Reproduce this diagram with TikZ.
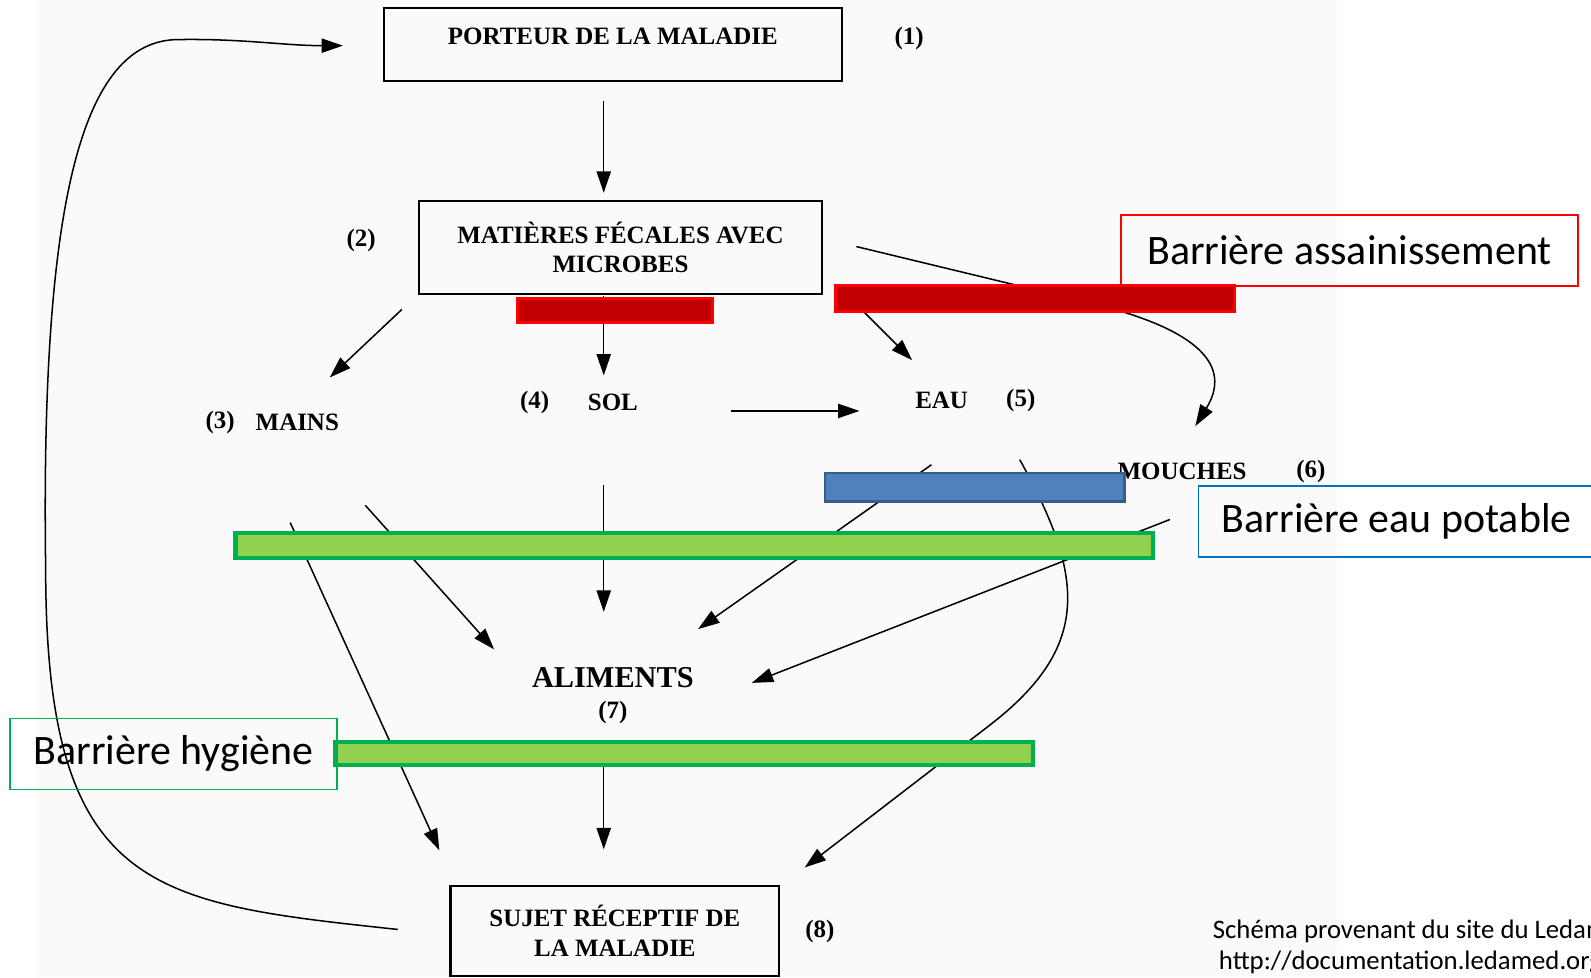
\documentclass[tikz,border=0pt]{standalone}
\usepackage{fontspec}
\setmainfont{Liberation Serif}
\newfontfamily\calibri{Carlito}
\usetikzlibrary{arrows.meta}

\definecolor{rougefonce}{RGB}{192,0,0}
\definecolor{rougevif}{RGB}{255,0,0}
\definecolor{vertclair}{RGB}{146,208,80}
\definecolor{vertfonce}{RGB}{0,176,80}
\definecolor{bleubarre}{RGB}{79,129,189}
\definecolor{bleubord}{RGB}{56,93,138}
\definecolor{bleucadre}{RGB}{0,112,192}

\begin{document}
\begin{tikzpicture}[x=0.02cm,y=-0.02cm,
  boite/.style={draw, line width=1.2pt, inner sep=0pt, align=center, font=\bfseries\fontsize{14}{16.5}\selectfont},
  etiq/.style={inner sep=0pt, font=\bfseries\fontsize{14}{16}\selectfont},
  fleche/.style={-{Triangle[length=12pt,width=8pt]}, line width=0.85pt},
  cadre/.style={draw, line width=0.9pt, inner sep=0pt, font=\calibri\fontsize{23.5}{28}\selectfont}]
\useasboundingbox (0,0) rectangle (1568,963);
\clip (0,0) rectangle (1568,963);
\fill[black!2] (35,0) rectangle (1318,963); % scanned page

% boxes
\node[boite, minimum width=9.04cm, minimum height=1.44cm, text depth=9pt] (porteur) at (604,44) {PORTEUR DE LA MALADIE};
\node[boite, minimum width=7.94cm, minimum height=1.84cm] (matieres) at (611.5,244) {MATIÈRES FÉCALES AVEC\\MICROBES};
\node[boite, minimum width=6.48cm, minimum height=1.78cm] (sujet) at (606,917.5) {SUJET RÉCEPTIF DE\\LA MALADIE};

% labels
\node[etiq] (n1) at (896,38) {(1)};
\node[etiq] (n2) at (356,237) {(2)};
\node[etiq] (n3) at (217,416) {(3)};
\node[etiq] (mains) at (293,416) {MAINS};
\node[etiq] (n4) at (527,397) {(4)};
\node[etiq] (sol) at (604,397) {SOL};
\node[etiq] (eau) at (928,395) {EAU};
\node[etiq] (n5) at (1006,395) {(5)};
\node[etiq] (mouches) at (1165,465) {MOUCHES};
\node[etiq] (n6) at (1292,465) {(6)};
\node[etiq, font=\bfseries\fontsize{17}{20}\selectfont] (aliments) at (604,668) {ALIMENTS};
\node[etiq] (n7) at (604,702) {(7)};
\node[etiq] (n8) at (808,918) {(8)};

% ends of the arrows
\coordinate (porteur-out) at (595,100);  \coordinate (matieres-in) at (595,190);
\coordinate (m-sol) at (595,292);        \coordinate (sol-in) at (595,370);
\coordinate (m-mains) at (396,305);      \coordinate (mains-in) at (325,372);
\coordinate (m-eau) at (835,291);        \coordinate (eau-in) at (899,355);
\coordinate (m-mouches) at (844,243);    \coordinate (mouches-in) at (1178,420);
\coordinate (sol-eau) at (720,405);      \coordinate (eau-left) at (847,405);
\coordinate (mains-s) at (286,515);      \coordinate (sujet-l) at (433,838);
\coordinate (mains-a) at (360,498);      \coordinate (aliments-l) at (487,640);
\coordinate (sol-a) at (595,478);        \coordinate (aliments-t) at (595,603);
\coordinate (eau-a) at (918,458);        \coordinate (aliments-r) at (688,620);
\coordinate (eau-s) at (1005,453);       \coordinate (sujet-r) at (793,855);
\coordinate (mouches-a) at (1153,512);   \coordinate (aliments-e) at (741,673);
\coordinate (aliments-s) at (595,748);   \coordinate (sujet-t) at (595,837);
\coordinate (sujet-back) at (392,916);   \coordinate (porteur-in) at (338,45);

% arrows
\draw[fleche] (porteur-out) -- (matieres-in);
\draw[fleche] (m-sol) -- (sol-in);
\draw[fleche] (m-mains) -- (mains-in);
\draw[fleche] (m-eau) -- (eau-in);
\draw[fleche] (m-mouches) -- (1080,300) .. controls (1180,325) and (1215,360) .. (mouches-in);
\draw[fleche] (sol-eau) -- (eau-left);
\draw[fleche] (mains-s) -- (sujet-l);
\draw[fleche] (mains-a) -- (aliments-l);
\draw[fleche] (sol-a) -- (aliments-t);
\draw[fleche] (eau-a) -- (aliments-r);
\draw[fleche] (eau-s) .. controls (1070,570) and (1075,638) .. (975,715) -- (sujet-r);
\draw[fleche] (mouches-a) -- (aliments-e);
\draw[fleche] (aliments-s) -- (sujet-t);
\draw[fleche] (sujet-back) .. controls (150,890) and (45,880) .. (45,560)
  .. controls (40,200) and (80,39) .. (176,39)
  .. controls (240,38) and (280,45) .. (porteur-in); % back to the carrier

% barriers
\draw[line width=1.7pt, draw=rougevif, fill=rougefonce] (510,294) rectangle (702,318);
\draw[line width=1.7pt, draw=rougevif, fill=rougefonce] (823,281) rectangle (1217,307);
\draw[line width=1.5pt, draw=bleubord, fill=bleubarre] (813,466) rectangle (1108,494);
\foreach \ya/\yb/\xa/\xb in {525/550/232/1136, 731/754/330/1018}
  \draw[line width=2.4pt, draw=vertfonce, fill=vertclair] (\xa,\ya) rectangle (\xb,\yb);

% callouts
\node[cadre, draw=rougevif, minimum width=9cm, minimum height=1.4cm] (assain) at (1330,247) {Barrière assainissement};
\node[cadre, draw=bleucadre, minimum width=7.82cm, minimum height=1.4cm] (potable) at (1376.5,514) {Barrière eau potable};
\node[cadre, draw=vertfonce, minimum width=6.44cm, minimum height=1.4cm] (hygiene) at (171,743) {Barrière hygiène};

% source
\node[anchor=west, inner sep=0pt, font=\calibri\fontsize{15}{17}\selectfont] (source) at (1195,918) {Schéma provenant du site du Ledamed};
\node[anchor=west, inner sep=0pt, font=\calibri\fontsize{15}{17}\selectfont] (url) at (1201,949) {http://documentation.ledamed.org};
\end{tikzpicture}
\end{document}
